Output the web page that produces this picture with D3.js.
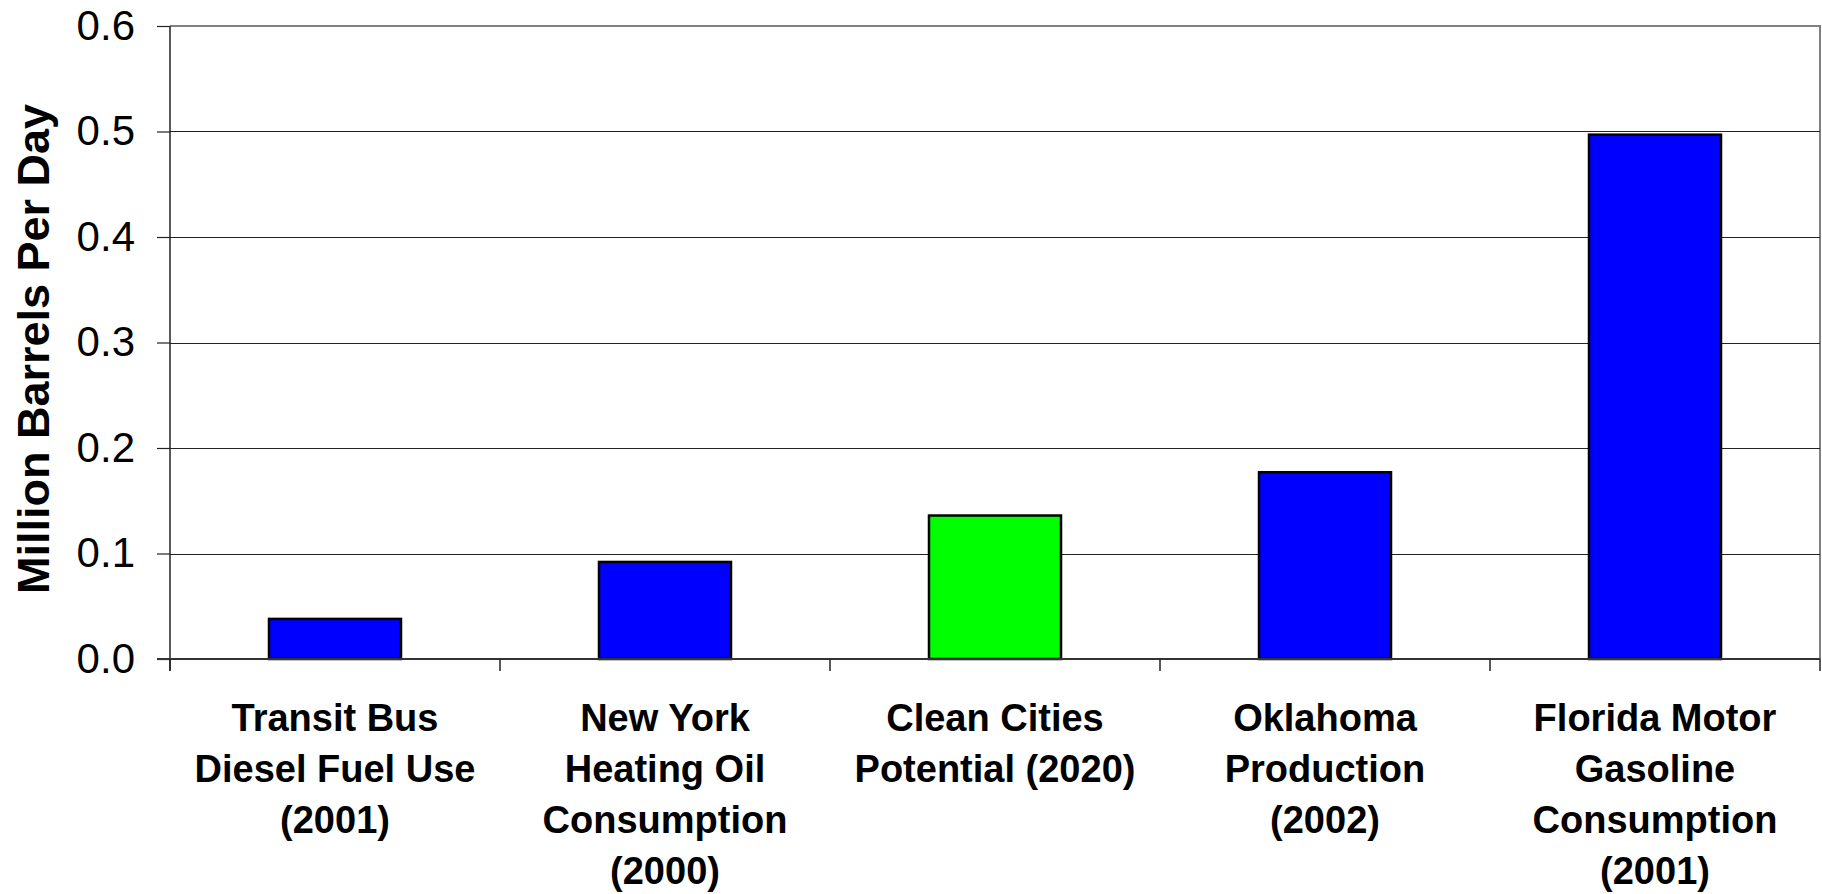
<!DOCTYPE html>
<html>
<head>
  <meta charset="utf-8">
  <title>Million Barrels Per Day</title>
  <script src="https://d3js.org/d3.v7.min.js"></script>
  <style>
    html, body { margin: 0; padding: 0; background: #fff; }
    body { font-family: "Liberation Sans", Arial, sans-serif; }
  </style>
</head>
<body>
  <div id="chart"></div>
  <script>
    // chart data
    const categories = [
      ["Transit Bus", "Diesel Fuel Use", "(2001)"],
      ["New York", "Heating Oil", "Consumption", "(2000)"],
      ["Clean Cities", "Potential (2020)"],
      ["Oklahoma", "Production", "(2002)"],
      ["Florida Motor", "Gasoline", "Consumption", "(2001)"]
    ];
    const values = [0.038, 0.092, 0.136, 0.177, 0.497];
    const barColors = ["#0000ff", "#0000ff", "#00ff00", "#0000ff", "#0000ff"];
    const yTicks = [0, 0.1, 0.2, 0.3, 0.4, 0.5, 0.6];
    const yTitle = "Million Barrels Per Day";

    const width = 1822, height = 894;
    const margin = { top: 26, right: 2, bottom: 235, left: 170 };

    const svg = d3.select("#chart")
      .append("svg")
      .attr("width", width)
      .attr("height", height);

    const x = d3.scaleBand()
      .domain(d3.range(categories.length))
      .range([margin.left, width - margin.right])
      .paddingInner(0.6)
      .paddingOuter(0.3);

    const y = d3.scaleLinear()
      .domain([0, 0.6])
      .range([height - margin.bottom, margin.top]);

    const x0 = margin.left, x1 = width - margin.right;
    const y0 = y(0), yTop = y(0.6);

    // plot area border (grey, top and right)
    svg.append("path")
      .attr("d", `M${x0},${yTop}H${x1}V${y0}`)
      .attr("fill", "none")
      .attr("stroke", "#808080")
      .attr("stroke-width", 2);

    // gridlines
    svg.append("g")
      .selectAll("line")
      .data(yTicks.filter(t => t > 0 && t < 0.6))
      .join("line")
      .attr("x1", x0).attr("x2", x1)
      .attr("y1", d => Math.round(y(d)) + 0.5)
      .attr("y2", d => Math.round(y(d)) + 0.5)
      .attr("stroke", "#222")
      .attr("stroke-width", 1.2);

    // y axis
    const yAxis = svg.append("g")
      .attr("transform", `translate(${x0},0)`)
      .call(d3.axisLeft(y).tickValues(yTicks).tickFormat(d3.format(".1f")).tickSize(13).tickPadding(22));
    yAxis.select(".domain").attr("stroke", "#222").attr("stroke-width", 1.5)
      .attr("d", `M0,${yTop}V${y0 + 12}`);
    yAxis.selectAll(".tick line").attr("stroke", "#222").attr("stroke-width", 1.2);
    yAxis.selectAll(".tick text")
      .attr("font-family", "'Liberation Sans', Arial, sans-serif")
      .attr("font-size", 42)
      .attr("fill", "#000");

    // bars
    svg.append("g")
      .selectAll("rect")
      .data(values)
      .join("rect")
      .attr("x", (d, i) => x(i))
      .attr("y", d => y(d))
      .attr("width", x.bandwidth())
      .attr("height", d => y0 - y(d))
      .attr("fill", (d, i) => barColors[i])
      .attr("stroke", "#000")
      .attr("stroke-width", 2.5);

    // x axis line and ticks between categories
    const step = (x1 - x0) / categories.length;
    svg.append("line")
      .attr("x1", x0 - 13).attr("x2", x1)
      .attr("y1", y0).attr("y2", y0)
      .attr("stroke", "#333")
      .attr("stroke-width", 2);
    svg.append("g")
      .selectAll("line")
      .data(d3.range(categories.length + 1))
      .join("line")
      .attr("x1", i => x0 + i * step).attr("x2", i => x0 + i * step)
      .attr("y1", y0).attr("y2", y0 + 12)
      .attr("stroke", "#222")
      .attr("stroke-width", 1.5);

    // category labels
    const labels = svg.append("g")
      .attr("font-family", "'Liberation Sans', Arial, sans-serif")
      .attr("font-size", 38)
      .attr("font-weight", "bold")
      .attr("text-anchor", "middle")
      .attr("fill", "#000");
    categories.forEach((lines, i) => {
      const cx = x(i) + x.bandwidth() / 2;
      const t = labels.append("text").attr("x", cx).attr("y", 731);
      lines.forEach((ln, j) => {
        t.append("tspan").attr("x", cx).attr("y", 731 + j * 51).text(ln);
      });
    });

    // y title
    svg.append("text")
      .attr("transform", `translate(49,${349}) rotate(-90)`)
      .attr("text-anchor", "middle")
      .attr("font-family", "'Liberation Sans', Arial, sans-serif")
      .attr("font-size", 45)
      .attr("font-weight", "bold")
      .attr("fill", "#000")
      .text(yTitle);
  </script>
</body>
</html>
